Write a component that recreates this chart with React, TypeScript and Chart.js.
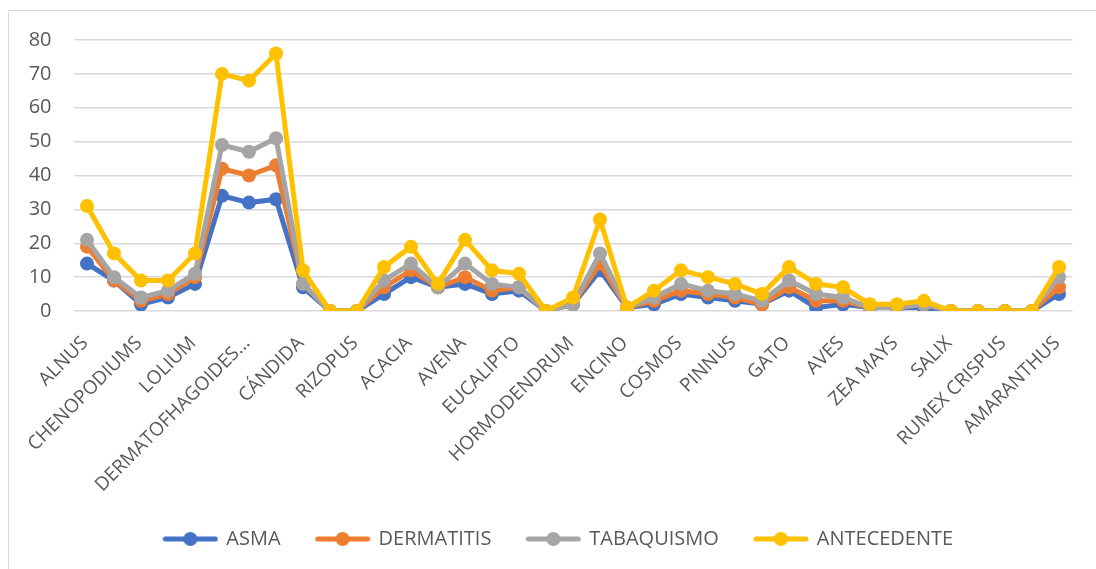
import React, { useEffect, useRef } from "react";
import { Chart, registerables } from "chart.js";

Chart.register(...registerables);

const categories: string[] = [
  "ALNUS", "AMBROSIA", "CHENOPODIUMS", "CYNODON", "LOLIUM",
  "DERMATOFHAGOIDES FARINAE", "DERMATOFHAGOIDES PTERONYSSINUS", "BLOMIA TROPICALIS",
  "CÁNDIDA", "ASPERGILLUS", "RIZOPUS", "ALTERNARIA", "ACACIA", "FRESNO", "AVENA",
  "CUPRESSUS", "EUCALIPTO", "PENICILLIUM", "HORMODENDRUM", "CUCARACHA", "ENCINO",
  "LIGUSTRUM", "COSMOS", "PERRO", "PINNUS", "OLIVO", "GATO", "CABALLO", "AVES",
  "PLUMAS", "ZEA MAYS", "SORGO", "SALIX", "PROSOPIS", "RUMEX CRISPUS", "ATRIPLEX",
  "AMARANTHUS",
];

const asma: number[] = [14, 9, 2, 4, 8, 34, 32, 33, 7, 0, 0, 5, 10, 7, 8, 5, 6, 0, 2, 12, 1, 2, 5, 4, 3, 2, 6, 1, 2, 1, 1, 1, 0, 0, 0, 0, 5];
const dermatitis: number[] = [19, 9, 3, 5, 10, 42, 40, 43, 8, 0, 0, 7, 12, 7, 10, 6, 7, 0, 2, 14, 1, 3, 6, 5, 4, 2, 7, 3, 3, 1, 1, 2, 0, 0, 0, 0, 7];
const tabaquismo: number[] = [21, 10, 4, 6, 11, 49, 47, 51, 8, 0, 0, 9, 14, 7, 14, 8, 7, 0, 2, 17, 1, 4, 8, 6, 5, 3, 9, 5, 4, 1, 1, 2, 0, 0, 0, 0, 10];
const antecedente: number[] = [31, 17, 9, 9, 17, 70, 68, 76, 12, 0, 0, 13, 19, 8, 21, 12, 11, 0, 4, 27, 1, 6, 12, 10, 8, 5, 13, 8, 7, 2, 2, 3, 0, 0, 0, 0, 13];

const seriesNames: string[] = ["ASMA", "DERMATITIS", "TABAQUISMO", "ANTECEDENTE"];
const seriesColors: string[] = ["#4472C4", "#ED7D31", "#A5A5A5", "#FFC000"];

const FONT = "'Open Sans', sans-serif";
const TEXT = "#595959";

function makeMarker(color: string): HTMLCanvasElement {
  const c = document.createElement("canvas");
  c.width = 56;
  c.height = 16;
  const ctx = c.getContext("2d")!;
  ctx.strokeStyle = color;
  ctx.lineWidth = 5;
  ctx.lineCap = "round";
  ctx.beginPath();
  ctx.moveTo(3, 8);
  ctx.lineTo(53, 8);
  ctx.stroke();
  ctx.fillStyle = color;
  ctx.beginPath();
  ctx.arc(28, 8, 7, 0, Math.PI * 2);
  ctx.fill();
  return c;
}

const legendShift = {
  id: "legendShift",
  afterLayout(chart: any) {
    const l = chart.legend;
    if (l) {
      l.left += 18;
      l.right += 18;
    }
  },
};

export default function App() {
  const ref = useRef<HTMLCanvasElement>(null);

  useEffect(() => {
    if (!ref.current) return;
    const values = [asma, dermatitis, tabaquismo, antecedente];
    const markers = seriesColors.map(makeMarker);
    const chart = new Chart(ref.current, {
      type: "line",
      data: {
        labels: categories,
        datasets: seriesNames.map((name, i) => ({
          label: name,
          data: values[i],
          borderColor: seriesColors[i],
          backgroundColor: seriesColors[i],
          borderWidth: 5,
          pointRadius: 7,
          pointBorderWidth: 0,
          pointBackgroundColor: seriesColors[i],
          tension: 0,
          order: 3 - i,
        })),
      },
      plugins: [legendShift],
      options: {
        responsive: false,
        animation: false,
        layout: { padding: { left: 0, right: 36.5, top: 29, bottom: 52 } },
        plugins: {
          tooltip: { enabled: false },
          legend: {
            position: "bottom",
            labels: {
              usePointStyle: true,
              pointStyleWidth: 52,
              boxHeight: 14,
              padding: 36,
              color: TEXT,
              font: { size: 20, family: FONT },
              sort: (a: any, b: any) => a.datasetIndex - b.datasetIndex,
              generateLabels: (c: any) => {
                const items = (Chart.defaults.plugins.legend.labels as any).generateLabels(c);
                return items.map((it: any) => ({ ...it, pointStyle: markers[it.datasetIndex] }));
              },
            },
          },
        },
        scales: {
          x: {
            offset: true,
            grid: { display: false },
            border: { display: false },
            ticks: {
              autoSkip: false,
              minRotation: 45,
              maxRotation: 45,
              padding: 13,
              labelOffset: -2,
              color: TEXT,
              font: { size: 19, family: FONT },
              callback: (_v: any, i: number) => {
                if (i % 2 !== 0) return "";
                const l = categories[i];
                return l.length > 20 ? l.slice(0, 16) + "..." : l;
              },
            },
            afterFit: (s: any) => {
              s.height = 182;
            },
          },
          y: {
            min: 0,
            max: 80,
            ticks: { stepSize: 10, padding: 22, color: TEXT, font: { size: 20, family: FONT } },
            grid: { color: "#d9d9d9", lineWidth: 1.5, drawTicks: false },
            border: { display: false },
            afterFit: (s: any) => {
              s.width = 64.5;
              s.paddingTop = 0;
              s.paddingBottom = 0;
            },
          },
        },
      },
    });
    return () => chart.destroy();
  }, []);

  return (
    <div style={{ position: "fixed", left: 0, top: 0, width: 1096, height: 569, overflow: "hidden", background: "#fff" }}>
      <div
        style={{
          position: "absolute",
          left: 8,
          top: 10,
          width: 1102,
          height: 602,
          border: "1px solid #d9d9d9",
          boxSizing: "border-box",
        }}
      >
        <canvas ref={ref} width={1100} height={600} style={{ display: "block" }} />
      </div>
    </div>
  );
}
